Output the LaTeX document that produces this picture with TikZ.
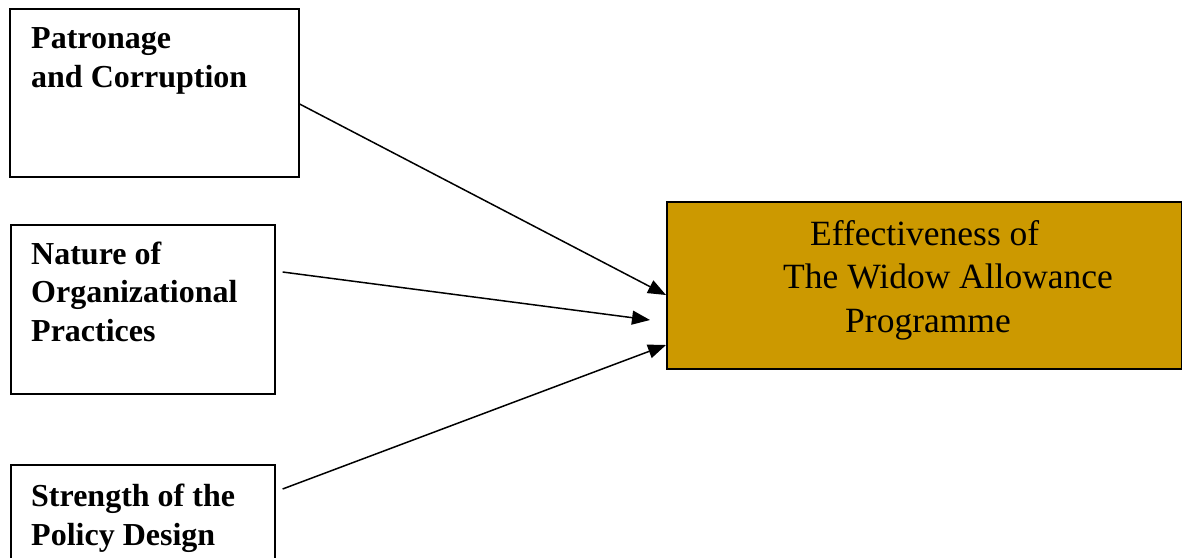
\documentclass[tikz,border=0pt]{standalone}
\usepackage{fontspec}
\setmainfont{Liberation Serif}
\usetikzlibrary{arrows.meta,calc}
\definecolor{gold}{HTML}{CC9900}
\tikzstyle{factor}=[draw,line width=1.6pt,anchor=north west,inner sep=0pt]
\tikzstyle{factortext}=[anchor=base west,inner sep=0pt,align=left,font=\fontsize{32}{38.5}\selectfont\bfseries]
\tikzstyle{outcome}=[factor,fill=gold]
\tikzstyle{outcometext}=[anchor=base west,inner sep=0pt,align=left,font=\fontsize{35.5}{43.5}\selectfont]
\tikzstyle{edge}=[draw,line width=1.5pt,-{Triangle[length=18pt,width=14pt]}]

\begin{document}
\begin{tikzpicture}[x=1pt,y=-1pt]
   \useasboundingbox (0,0) rectangle (1182,557);

    \foreach \pos/ \name / \w / \h in {{(9,8)/pat/289/168},{(10,224)/org/264/169},{(10,464)/pol/264/150}}
        \node[factor,minimum width=\w pt,minimum height=\h pt] (\name) at \pos {};
    \foreach \pos/ \name / \label in {{(31,87)/pattext/Patronage\\and Corruption},{(31,341)/orgtext/Nature of\\Organizational\\Practices},{(31,545)/poltext/Strength of the\\Policy Design}}
        \node[factortext] (\name) at \pos {\label};

    \node[outcome,minimum width=515pt,minimum height=167pt] (eff) at (666,201) {};
    \node[outcometext] (efftext) at (783,332) {\hspace*{27pt}Effectiveness of\\The Widow Allowance\\\hspace*{62pt}Programme};

    % Connect factors with the outcome
    \coordinate (tip2) at (650,320);
    \draw[edge] ($(pat.north east)+(0,96)$) -- ($(eff.north west)+(0,94)$);
    \draw[edge] ($(org.north east)+(7,48)$) -- (tip2);
    \draw[edge] ($(pol.north east)+(7,25)$) -- ($(eff.north west)+(0,144)$);

\end{tikzpicture}
\end{document}
